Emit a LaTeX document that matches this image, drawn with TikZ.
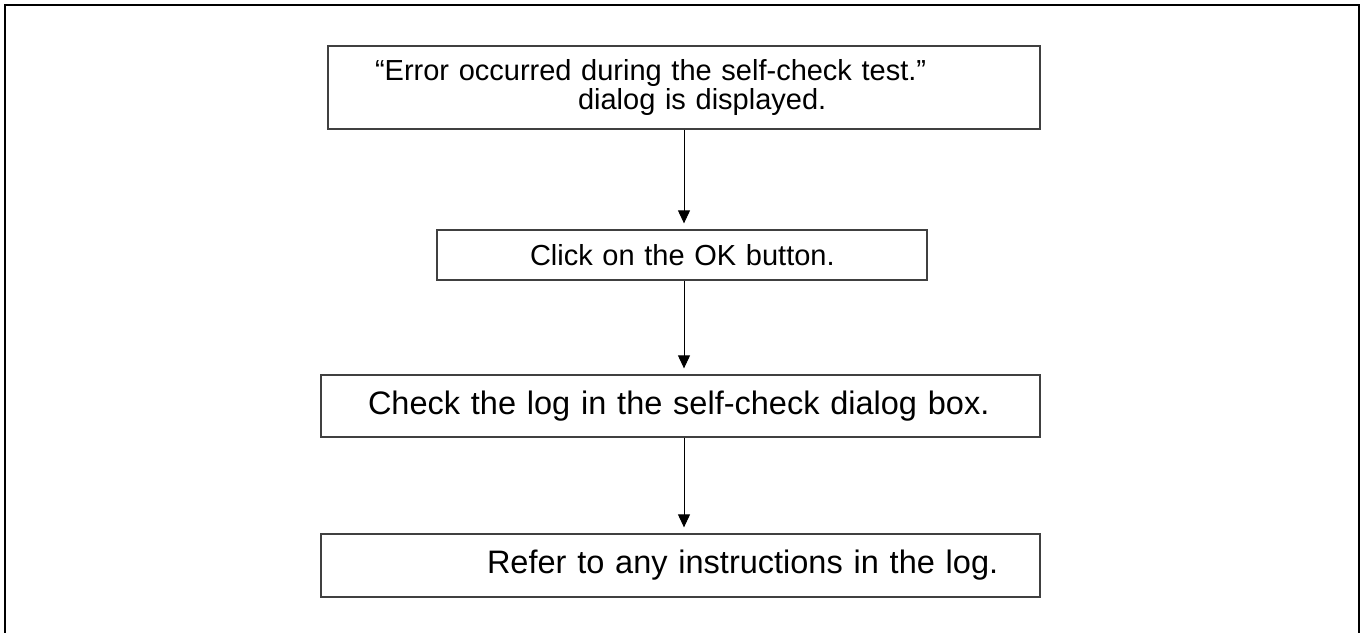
\documentclass[tikz,border=0pt]{standalone}
\usepackage{fontspec}
\setmainfont{Liberation Sans}
\usetikzlibrary{arrows.meta}
\begin{document}
\begin{tikzpicture}[x=1pt,y=-1pt,
  stepbox/.style={draw=black!75, line width=1.3pt, inner sep=0pt, text width=#1, align=left, minimum width=#1},
  fa/.style={font=\fontsize{29}{27}\selectfont},
  fb/.style={font=\fontsize{32.5}{30}\selectfont},
  flow/.style={-{Triangle[length=13pt,width=12pt]}, line width=1pt, shorten >=6pt},
  frame/.style={line width=2.5pt}]
\useasboundingbox (0,0) rectangle (1364,632);
\draw[frame] (5,640) -- (5,5) -- (1359,5) -- (1359,640);
\node[stepbox=712pt, fa, minimum height=83pt] (b1) at (684,87.5)
  {\hspace*{47pt}“Error occurred during the self-check test.”\\\hspace*{250pt}dialog is displayed.};
\node[stepbox=490pt, fa, minimum height=50pt] (b2) at (682,255)
  {\hspace*{93pt}Click on the OK button.};
\node[stepbox=719pt, fb, minimum height=62pt] (b3) at (680.5,406)
  {\hspace*{47pt}Check the log in the self-check dialog box.};
\node[stepbox=719pt, fb, minimum height=63pt] (b4) at (680.5,565.5)
  {\hspace*{166pt}Refer to any instructions in the log.};
\coordinate (ax) at (684,0);
\draw[flow] (b1.south -| ax) -- (b2.north -| ax);
\draw[flow] (b2.south -| ax) -- (b3.north -| ax);
\draw[flow] (b3.south -| ax) -- (b4.north -| ax);
\end{tikzpicture}
\end{document}
